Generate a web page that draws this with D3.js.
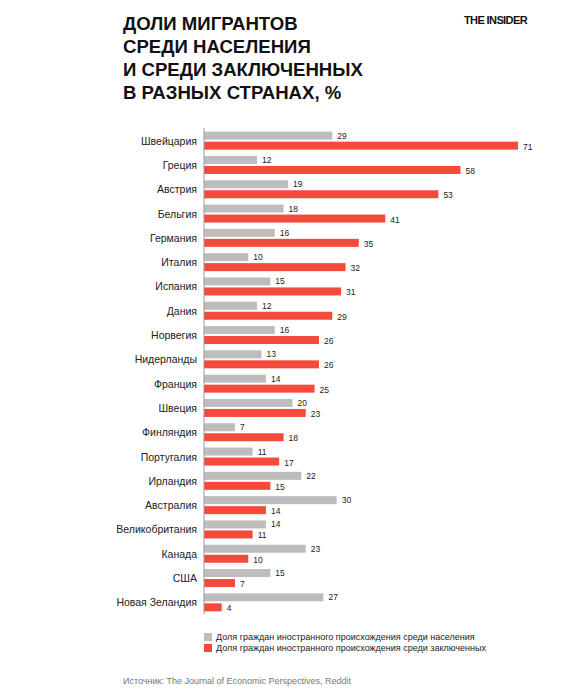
<!DOCTYPE html>
<html><head><meta charset="utf-8">
<script src="https://cdn.jsdelivr.net/npm/d3@7"></script>
<style>body{margin:0;background:#fff}</style>
</head><body><svg width="582" height="693"></svg>
<script>
const countries = ['Швейцария','Греция','Австрия','Бельгия','Германия','Италия','Испания','Дания','Норвегия','Нидерланды','Франция','Швеция','Финляндия','Португалия','Ирландия','Австралия','Великобритания','Канада','США','Новая Зеландия'];
const population = [29,12,19,18,16,10,15,12,16,13,14,20,7,11,22,30,14,23,15,27];
const prisoners = [71,58,53,41,35,32,31,29,26,26,25,23,18,17,15,14,11,10,7,4];
const legendLabels = ['Доля граждан иностранного происхождения среди населения','Доля граждан иностранного происхождения среди заключенных'];
const colors = ['#bdbdbd','#f44a3b'];

const svg = d3.select('svg');
const font = 'Arial, "Liberation Sans", sans-serif';

// title
['ДОЛИ МИГРАНТОВ','СРЕДИ НАСЕЛЕНИЯ','И СРЕДИ ЗАКЛЮЧЕННЫХ','В РАЗНЫХ СТРАНАХ, %'].forEach((t,i) => {
  svg.append('text').attr('x',123).attr('y',30+i*23).text(t)
    .attr('font-family',font).attr('font-weight','bold').attr('font-size',18.6).attr('fill','#111');
});
svg.append('text').attr('x',527).attr('y',24).attr('text-anchor','end').text('THE INSIDER')
  .attr('font-family',font).attr('font-weight','bold').attr('font-size',11).attr('letter-spacing',-0.6).attr('fill','#111');

const x = d3.scaleLinear().domain([0,71]).range([204,518]);
const y = d3.scaleBand().domain(countries).range([128,614]).paddingInner(0.3).paddingOuter(0.15);
const bh = 8;

const rows = svg.append('g').selectAll('g.row').data(countries).join('g')
  .attr('transform', d => `translate(0,${y(d)})`);

rows.append('rect').attr('x',x(0)).attr('y',0).attr('height',bh)
  .attr('width',(d,i) => x(population[i]) - x(0)).attr('fill',colors[0]);
rows.append('rect').attr('x',x(0)).attr('y',bh+2).attr('height',bh)
  .attr('width',(d,i) => x(prisoners[i]) - x(0)).attr('fill',colors[1]);
rows.append('text').attr('x',(d,i) => x(population[i])+5).attr('y',bh-1).text((d,i)=>population[i])
  .attr('font-family',font).attr('font-size',8.5).attr('fill','#222');
rows.append('text').attr('x',(d,i) => x(prisoners[i])+5).attr('y',2*bh+2).text((d,i)=>prisoners[i])
  .attr('font-family',font).attr('font-size',8.5).attr('fill','#222');
rows.append('text').attr('x',197).attr('y',bh+5).attr('text-anchor','end').text(d=>d)
  .attr('font-family',font).attr('font-size',10.5).attr('fill','#222');

svg.append('line').attr('x1',x(0)).attr('x2',x(0)).attr('y1',128).attr('y2',614)
  .attr('stroke','#999').attr('stroke-width',1);

// legend
legendLabels.forEach((t,i) => {
  svg.append('rect').attr('x',204).attr('y',633+i*11).attr('width',8).attr('height',8).attr('fill',colors[i]);
  svg.append('text').attr('x',216).attr('y',640+i*11).text(t)
    .attr('font-family',font).attr('font-size',9).attr('fill','#222');
});
svg.append('text').attr('x',123).attr('y',684).text('Источник: The Journal of Economic Perspectives, Reddit')
  .attr('font-family',font).attr('font-size',9).attr('fill','#777');
</script></body></html>
